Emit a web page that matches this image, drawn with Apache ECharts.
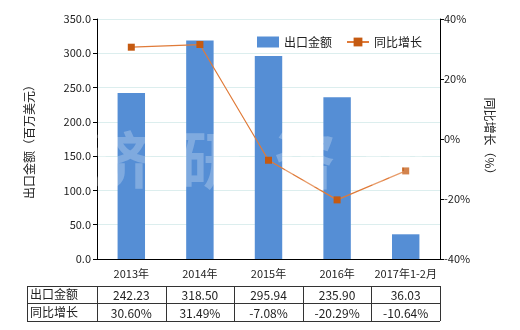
<!DOCTYPE html>
<html><head><meta charset="utf-8">
<script src="https://cdn.jsdelivr.net/npm/echarts@6/dist/echarts.min.js"></script>
<style>html,body{margin:0;padding:0;background:#fff}#c{width:520px;height:330px}</style>
</head><body><div id="c"></div>
<script>
const categories = ['2013年','2014年','2015年','2016年','2017年1-2月'];
const exportValues = [242.23, 318.50, 295.94, 235.90, 36.03];
const growthValues = [30.60, 31.49, -7.08, -20.29, -10.64];
const exportLabels = ['242.23','318.50','295.94','235.90','36.03'];
const growthLabels = ['30.60%','31.49%','-7.08%','-20.29%','-10.64%'];
const seriesNames = ['出口金额','同比增长'];
const leftTitle = '出口金额（百万美元）';
const rightTitle = '同比增长（%）';

const FONT = '"Noto Sans CJK SC", "DejaVu Sans", sans-serif';
const chart = echarts.init(document.getElementById('c'), null, {renderer:'canvas'});
const GL = 97, GR = 80, GT = 19, GB = 71;
chart.setOption({
  animation:false,
  textStyle:{fontFamily:FONT},
  grid:{left:GL, right:GR, top:GT, bottom:GB, containLabel:false},
  legend:{
    data:[{name:seriesNames[0], icon:'rect'}, {name:seriesNames[1]}],
    top:31, left:252, itemWidth:22, itemHeight:11, itemGap:14,
    textStyle:{fontSize:12, color:'#222', fontFamily:FONT}
  },
  xAxis:{
    type:'category', data:categories,
    axisLine:{lineStyle:{color:'#000'}},
    axisTick:{alignWithLabel:true, lineStyle:{color:'#000'}, length:4},
    axisLabel:{color:'#222', fontSize:11, margin:9, interval:0, fontFamily:FONT}
  },
  yAxis:[{
    type:'value', min:0, max:350, interval:50,
    name:leftTitle, nameLocation:'middle', nameGap:62, nameRotate:90,
    nameTextStyle:{fontSize:12, color:'#222', fontFamily:FONT},
    axisLine:{show:true, lineStyle:{color:'#000'}},
    axisTick:{show:true, length:4, lineStyle:{color:'#000'}},
    axisLabel:{color:'#222', fontSize:11, margin:6, formatter:v=>v.toFixed(1), fontFamily:FONT},
    splitLine:{lineStyle:{color:'#dceeee'}}
  },{
    type:'value', min:-40, max:40, interval:20,
    name:rightTitle, nameLocation:'middle', nameGap:44, nameRotate:-90,
    nameTextStyle:{fontSize:12, color:'#222', fontFamily:FONT},
    axisLine:{show:true, lineStyle:{color:'#000'}},
    axisTick:{show:true, length:4, lineStyle:{color:'#000'}},
    axisLabel:{color:'#222', fontSize:11, margin:4, formatter:v=>v+'%', fontFamily:FONT},
    splitLine:{show:false}
  }],
  series:[{
    name:seriesNames[0], type:'bar', data:exportValues, barWidth:'40%',
    itemStyle:{color:'#558ED5'}
  },{
    name:seriesNames[1], type:'line', yAxisIndex:1, data:growthValues,
    symbol:'rect', symbolSize:7,
    lineStyle:{color:'#E07B39', width:1.2},
    itemStyle:{color:'#C55A11'}
  }]
});

// table + watermark
const g = [];
const colX = [27];
const step = (520-GL-GR)/categories.length;
for (let i=0;i<=categories.length;i++) colX.push(GL + step*i);
const rowY = [286, 303, 321];
const lineStyle = {stroke:'#333', lineWidth:1};
for (const y of rowY) g.push({type:'line', shape:{x1:colX[0], y1:y+0.5, x2:colX[colX.length-1], y2:y+0.5}, style:lineStyle, silent:true});
for (const x of colX) g.push({type:'line', shape:{x1:Math.round(x)+0.5, y1:rowY[0], x2:Math.round(x)+0.5, y2:rowY[2]}, style:lineStyle, silent:true});
const rows = [[seriesNames[0], exportLabels],[seriesNames[1], growthLabels]];
rows.forEach((r,ri)=>{
  const cy = (rowY[ri]+rowY[ri+1])/2;
  g.push({type:'text', x:colX[0]+3, y:cy, style:{text:r[0], fill:'#222', font:'12px '+FONT, verticalAlign:'middle', align:'left'}, silent:true});
  r[1].forEach((t,i)=>{
    const cx = chart.convertToPixel({xAxisIndex:0}, categories[i]);
    g.push({type:'text', x:cx, y:cy+1, style:{text:t, fill:'#222', font:'12px '+FONT, verticalAlign:'middle', align:'center'}, silent:true});
  });
});
const wm = ['济','研','咨','询'];
const wmx = [122, 210, 305, 395];
wm.forEach((c,i)=>g.push({type:'text', x:wmx[i], y:160, z:100, style:{text:c, fill:'rgba(255,255,255,0.25)', font:'bold 62px '+FONT, align:'center', verticalAlign:'middle'}, silent:true}));
chart.setOption({graphic:g});
</script></body></html>
